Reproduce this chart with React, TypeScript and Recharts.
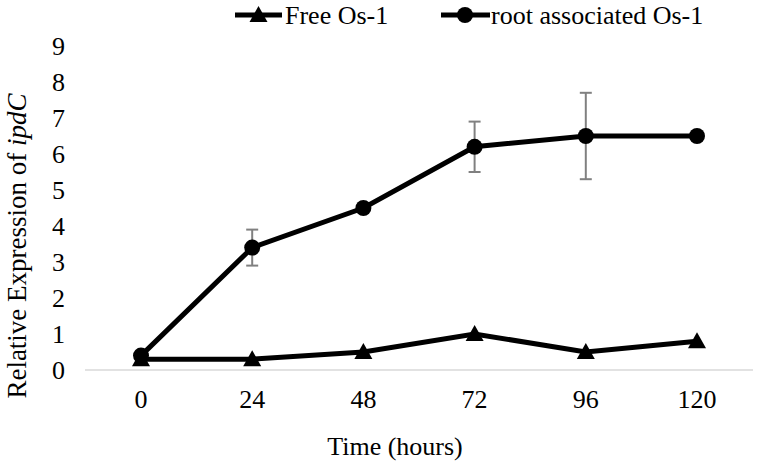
import React from 'react';
import { LineChart, Line, XAxis, YAxis, ErrorBar, Legend } from 'recharts';

const hours = ['0', '24', '48', '72', '96', '120'];
const freeOs1 = [0.3, 0.3, 0.5, 1.0, 0.5, 0.8];
const rootOs1 = [0.4, 3.4, 4.5, 6.2, 6.5, 6.5];
const rootErr = [0, 0.5, 0, 0.7, 1.2, 0];
const yTicks = [0, 1, 2, 3, 4, 5, 6, 7, 8, 9];

const data = hours.map((h, i) => ({
  hour: h,
  free: freeOs1[i],
  root: rootOs1[i],
  rootErr: rootErr[i],
}));

const FONT = "'Liberation Serif', 'DejaVu Serif', serif";

const Triangle = (props: any) => {
  const { cx, cy, index } = props;
  if (cx == null || cy == null) return null;
  return <path key={`t-${index}`} d={`M${cx},${cy - 9} L${cx + 9},${cy + 7} L${cx - 9},${cy + 7} Z`} fill="#000" />;
};

const LegendContent = () => (
  <svg width={758} height={30} style={{ display: 'block' }}>
    <line x1={235} y1={15} x2={282} y2={15} stroke="#000" strokeWidth={5} />
    <path d="M258.5,6 L267.5,22 L249.5,22 Z" fill="#000" />
    <text x={285} y={24} style={{ fontFamily: FONT }} fontSize={26} fill="#000">Free Os-1</text>
    <line x1={441} y1={15} x2={490} y2={15} stroke="#000" strokeWidth={5} />
    <circle cx={465} cy={15} r={8} fill="#000" />
    <text x={491} y={24} style={{ fontFamily: FONT }} fontSize={26} fill="#000">root associated Os-1</text>
  </svg>
);

const YTitle = () => (
  <text transform="translate(26,246) rotate(-90)" textAnchor="middle" style={{ fontFamily: FONT }} fontSize={27} fill="#000">
    Relative Expression of <tspan fontStyle="italic">ipdC</tspan>
  </text>
);

export default function App() {
  return (
    <div style={{ position: 'relative', width: 758, height: 463, background: '#fff', fontFamily: FONT }}>
      <style>{`body{margin:0} svg text{font-family:${FONT} !important}`}</style>
      <LineChart width={758} height={463} data={data} margin={{ top: 16, right: 5, bottom: 0, left: 0 }}>
        <Legend
          verticalAlign="top"
          height={30}
          content={<LegendContent />}
          wrapperStyle={{ position: 'absolute', top: 0, left: 0, width: 758, height: 30 }}
        />
        <XAxis
          dataKey="hour"
          stroke="#d9d9d9"
          strokeWidth={1.5}
          tickLine={false}
          interval={0}
          padding={{ left: 56, right: 56 }}
          tick={{ fill: '#000', fontSize: 26 }}
          tickMargin={14}
          height={93}
          label={{ value: 'Time (hours)', position: 'insideBottom', offset: 8, dx: -24, fill: '#000', fontSize: 26 }}
        />
        <YAxis
          domain={[0, 9]}
          ticks={yTicks}
          interval={0}
          axisLine={false}
          tickLine={false}
          tickSize={0}
          tickMargin={20}
          width={85}
          tick={{ fill: '#000', fontSize: 26 }}
          label={<YTitle />}
        />
        <Line
          dataKey="free"
          stroke="#000"
          strokeWidth={5}
          dot={<Triangle />}
          activeDot={false}
          isAnimationActive={false}
        />
        <Line
          dataKey="root"
          stroke="#000"
          strokeWidth={5}
          dot={{ r: 8, fill: '#000', stroke: '#000', strokeWidth: 0 }}
          activeDot={false}
          isAnimationActive={false}
        >
          <ErrorBar dataKey="rootErr" stroke="#808080" strokeWidth={2} width={6} direction="y" />
        </Line>
      </LineChart>
    </div>
  );
}
